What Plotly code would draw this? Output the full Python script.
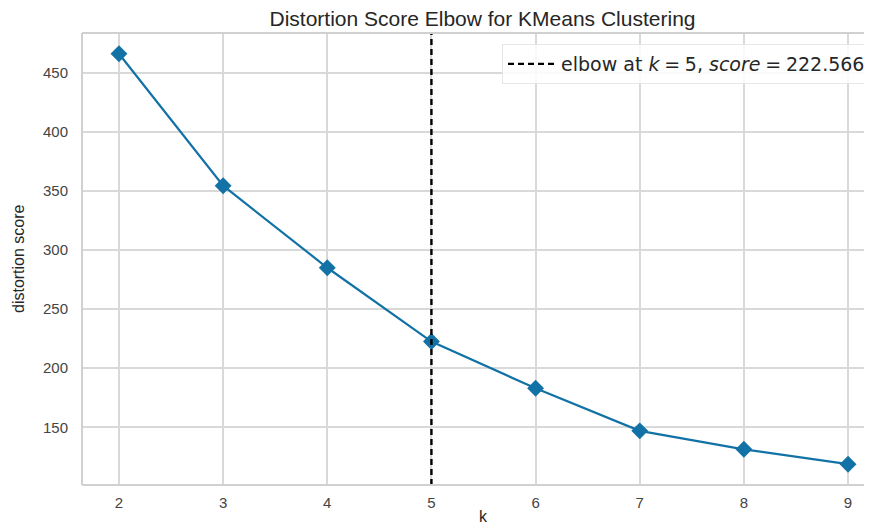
import plotly.graph_objects as go

k_values = [2, 3, 4, 5, 6, 7, 8, 9]
distortion = [466.0, 354.4, 285.0, 222.566, 183.0, 147.0, 131.4, 118.8]
elbow_k = 5
elbow_score = 222.566
x_ticks = [2, 3, 4, 5, 6, 7, 8, 9]
y_ticks = [150, 200, 250, 300, 350, 400, 450]

x_range = [1.645, 9.23]
y_range = [101.2, 483.6]

# page body has an 8px margin, so the figure is sized to fit the window
W, H = 864, 518
ML, MR, MT, MB = 74, 0, 25, 41
PW, PH = W - ML - MR, H - MT - MB

fig = go.Figure()
fig.add_trace(go.Scatter(
    x=k_values, y=distortion, mode="lines+markers",
    line=dict(color="#1272a6", width=2.2),
    marker=dict(symbol="diamond", size=13, color="#1272a6"),
    showlegend=False,
))
fig.add_trace(go.Scatter(
    x=[elbow_k, elbow_k], y=y_range, mode="lines",
    line=dict(color="black", width=2.4, dash="6px,4px"),
    name=(f"elbow at <i>k</i>\u2005=\u2005{elbow_k}, "
          f"<i>score</i>\u2005=\u2005{elbow_score}"),
    showlegend=True,
))

axis_common = dict(showgrid=True, gridcolor="#d9d9d9", gridwidth=1.5,
                   zeroline=False, showline=False,
                   tickfont=dict(family="Liberation Sans", size=15, color="#444444"))

fig.update_layout(
    width=W, height=H,
    margin=dict(l=ML, r=MR, t=MT, b=MB, pad=0),
    paper_bgcolor="white", plot_bgcolor="white",
    title=dict(text="Distortion Score Elbow for KMeans Clustering",
               x=474.5 / W, xanchor="center",
               y=1 - 10.5 / H, yanchor="middle",
               font=dict(family="Liberation Sans", size=21, color="#262626")),
    xaxis=dict(range=x_range, tickvals=x_ticks, ticks="outside", ticklen=4,
               tickcolor="rgba(0,0,0,0)", **axis_common),
    yaxis=dict(range=y_range, tickvals=y_ticks, ticks="outside", ticklen=10,
               tickcolor="rgba(0,0,0,0)", **axis_common),
    legend=dict(x=(863 - ML) / PW, xanchor="right", y=1 - 11 / PH, yanchor="top",
                itemwidth=48,
                bgcolor="rgba(255,255,255,0.85)", bordercolor="#e6e6e6", borderwidth=1,
                font=dict(family="DejaVu Sans", size=19, color="#262626")),
    annotations=[
        dict(text="distortion score", xref="paper", yref="paper",
             x=(10 - ML) / PW, y=0.5, textangle=-90, showarrow=False,
             xanchor="center", yanchor="middle",
             font=dict(family="Liberation Sans", size=16, color="#262626")),
        dict(text="k", xref="paper", yref="paper",
             x=(475 - ML) / PW, y=-(508 - (H - MB)) / PH, showarrow=False,
             xanchor="center", yanchor="middle",
             font=dict(family="Liberation Sans", size=16, color="#262626")),
    ],
    shapes=[
        dict(type="line", xref="paper", yref="paper", x0=0, x1=0, y0=0, y1=1,
             line=dict(color="#d0d0d0", width=2)),
        dict(type="line", xref="paper", yref="paper", x0=0, x1=1, y0=0, y1=0,
             line=dict(color="#d0d0d0", width=2)),
        dict(type="line", xref="paper", yref="paper", x0=0, x1=1, y0=1, y1=1,
             line=dict(color="#d0d0d0", width=2)),
    ],
)

fig.write_html("out.html")
